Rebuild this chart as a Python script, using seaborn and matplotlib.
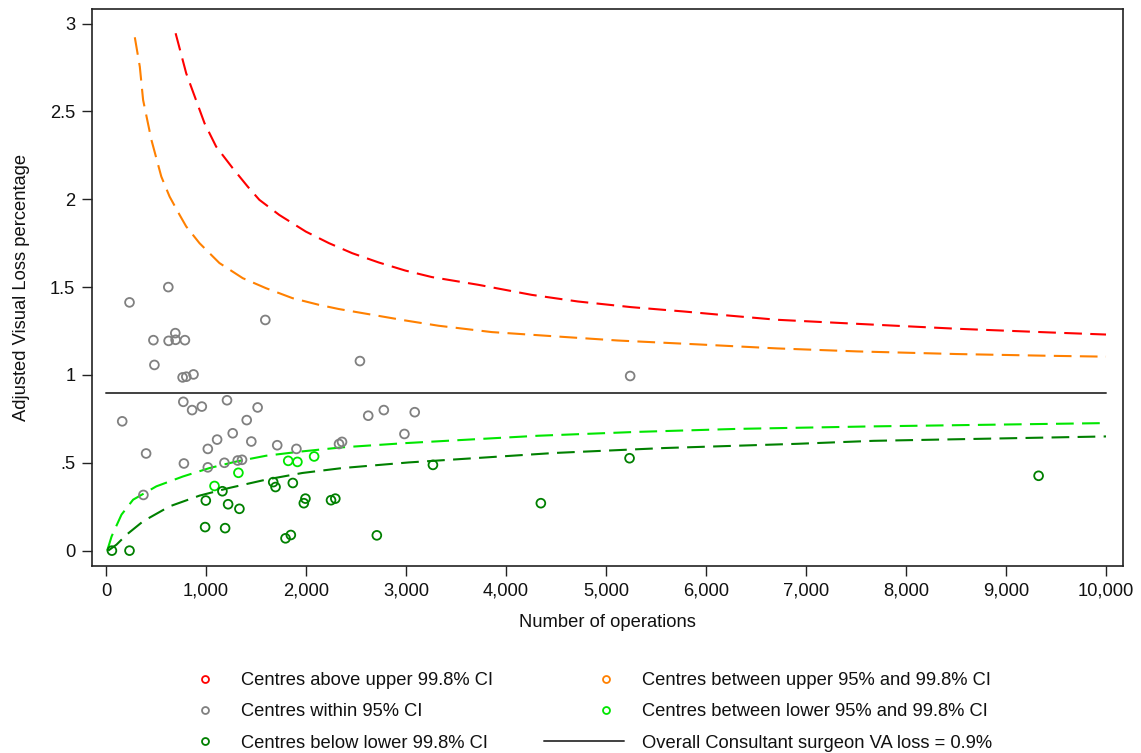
import numpy as np
import pandas as pd
import matplotlib
matplotlib.use("Agg")
import matplotlib.pyplot as plt
import seaborn as sns
from matplotlib.lines import Line2D
from matplotlib.legend_handler import HandlerLine2D
from matplotlib.ticker import FuncFormatter

# ---------------- data ----------------
within_x = [624, 236, 475, 627, 694, 697, 790, 1594, 485, 767, 804, 876, 2540, 774, 862, 959,
            1211, 1517, 163, 1408, 1268, 1112, 1019, 1454, 2623, 2779, 3088, 2985, 1713, 1905,
            2331, 2361, 402, 780, 1019, 1185, 1318, 1361, 375, 5242]
within_y = [1.50, 1.413, 1.198, 1.194, 1.238, 1.20, 1.198, 1.313, 1.057, 0.986, 0.990, 1.003, 1.079,
            0.847, 0.80, 0.82, 0.856, 0.815, 0.736, 0.743, 0.668, 0.632, 0.579, 0.621, 0.768, 0.80,
            0.788, 0.664, 0.60, 0.579, 0.607, 0.619, 0.553, 0.496, 0.474, 0.50, 0.513, 0.517, 0.317,
            0.994]

lower95_x = [1086, 1325, 1823, 1915, 2082]
lower95_y = [0.368, 0.443, 0.511, 0.505, 0.536]

below998_x = [60, 236, 999, 1165, 1222, 1335, 992, 1192, 1673, 1696, 1869, 1995, 1979, 2251, 2294,
              1796, 1849, 2709, 3270, 4349, 5236, 9326]
below998_y = [0.0, 0.0, 0.285, 0.338, 0.264, 0.238, 0.134, 0.128, 0.390, 0.362, 0.385, 0.296, 0.27,
              0.287, 0.296, 0.07, 0.089, 0.087, 0.488, 0.27, 0.526, 0.426]

# control limits
up998_x = [697, 803, 986, 1102, 1268, 1418, 1534, 1733, 1999, 2231, 2463, 2729, 2995, 3260, 3725,
           4256, 4721, 5252, 5783, 6248, 6713, 7510, 8506, 9435, 10000]
up998_y = [2.945, 2.717, 2.433, 2.30, 2.177, 2.072, 1.997, 1.911, 1.816, 1.75, 1.693, 1.64, 1.594,
           1.557, 1.513, 1.456, 1.418, 1.386, 1.361, 1.337, 1.314, 1.291, 1.263, 1.242, 1.23]

up95_x = [289, 339, 372, 455, 554, 637, 737, 803, 936, 1135, 1368, 1600, 1866, 2131, 2331, 2995,
          3327, 3858, 4588, 5120, 5916, 6713, 7510, 8506, 9435, 10000]
up95_y = [2.922, 2.755, 2.565, 2.338, 2.129, 2.015, 1.911, 1.845, 1.75, 1.637, 1.551, 1.494, 1.437,
          1.399, 1.375, 1.31, 1.28, 1.244, 1.216, 1.196, 1.174, 1.151, 1.134, 1.119, 1.109, 1.104]

lo95_x = [13, 57, 156, 272, 505, 770, 1036, 1302, 1600, 1965, 2364, 2995, 4323, 5319, 6315, 7643, 10000]
lo95_y = [0.0, 0.081, 0.205, 0.29, 0.366, 0.422, 0.47, 0.507, 0.54, 0.565, 0.588, 0.612, 0.654,
          0.676, 0.693, 0.707, 0.726]

lo998_x = [23, 106, 205, 372, 637, 936, 1235, 1600, 1965, 2364, 3028, 4489, 5584, 6912, 7676, 10000]
lo998_y = [0.0, 0.034, 0.09, 0.167, 0.252, 0.313, 0.357, 0.404, 0.442, 0.47, 0.502, 0.556, 0.584,
           0.608, 0.625, 0.65]

overall_rate = 0.9
overall_x = [0, 10000]

x_ticks = [0, 1000, 2000, 3000, 4000, 5000, 6000, 7000, 8000, 9000, 10000]
y_ticks = [0, 0.5, 1, 1.5, 2, 2.5, 3]
y_tick_labels = ["0", ".5", "1", "1.5", "2", "2.5", "3"]

labels = ["Centres above upper 99.8% CI", "Centres within 95% CI", "Centres below lower 99.8% CI",
          "Centres between upper 95% and 99.8% CI", "Centres between lower 95% and 99.8% CI",
          "Overall Consultant surgeon VA loss = 0.9%"]

# ---------------- styling ----------------
sns.set_theme(style="white")
plt.rcParams["font.family"] = ["Liberation Sans", "DejaVu Sans"]

C_RED = "#ff0000"
C_ORANGE = "#ff8000"
C_GRAY = "#808080"
C_LIME = "#00e600"
C_DGREEN = "#008000"
C_LINE = "#404040"

FS = 13.2

W, H = 1141, 753
fig = plt.figure(figsize=(W / 100, H / 100), dpi=100)
fig.patch.set_facecolor("white")
ax = fig.add_axes([92 / W, 1 - 566 / H, (1123 - 92) / W, (566 - 9) / H])

dash = (8.5, 4)
def curve(xs, ys, color):
    d = pd.DataFrame({"x": xs, "y": ys})
    sns.lineplot(data=d, x="x", y="y", ax=ax, color=color, linewidth=1.5,
                 sort=False, estimator=None, dashes=False, linestyle=(0, dash))

curve(up998_x, up998_y, C_RED)
curve(up95_x, up95_y, C_ORANGE)
curve(lo95_x, lo95_y, C_LIME)
curve(lo998_x, lo998_y, C_DGREEN)

sns.lineplot(x=overall_x, y=[overall_rate] * len(overall_x), ax=ax, color=C_LINE, linewidth=1.4)

def pts(xs, ys, color):
    sns.scatterplot(x=xs, y=ys, ax=ax, marker="o", s=40, facecolors="none",
                    edgecolor=color, linewidth=1.3, zorder=5)

pts(within_x, within_y, C_GRAY)
pts(lower95_x, lower95_y, C_LIME)
pts(below998_x, below998_y, C_DGREEN)

ax.set_xlim(-139, 10170)
ax.set_ylim(-0.0875, 3.083)
ax.set_xticks(x_ticks)
ax.xaxis.set_major_formatter(FuncFormatter(lambda v, p: f"{int(v):,}"))
ax.set_yticks(y_ticks)
ax.set_yticklabels(y_tick_labels)
ax.tick_params(axis="both", direction="out", length=7, width=1, color="#222222",
               labelsize=FS, labelcolor="#111111", bottom=True, left=True)
ax.tick_params(axis="x", pad=5)
ax.tick_params(axis="y", pad=5)
for s in ax.spines.values():
    s.set_color("#222222")
    s.set_linewidth(1.2)
ax.set_xlabel("Number of operations", fontsize=FS, color="#111111", labelpad=10)
ax.set_ylabel("Adjusted Visual Loss percentage", fontsize=FS, color="#111111", labelpad=14.5)
ax.grid(False)


class MarkerRight(HandlerLine2D):
    def create_artists(self, legend, orig_handle, xdescent, ydescent, width, height, fontsize, trans):
        arts = super().create_artists(legend, orig_handle, xdescent, ydescent, width, height, fontsize, trans)
        for a in arts:
            xd = np.asarray(a.get_xdata(), dtype=float)
            if len(xd) == 3:
                a.set_xdata([xd[0], xd[0] + 0.775 * (xd[2] - xd[0]), xd[2]])
        return arts


def mk(color):
    return Line2D([], [], linestyle="None", marker="o", markersize=5, markerfacecolor="none",
                  markeredgecolor=color, markeredgewidth=1.3)

handles = [mk(C_RED), mk(C_GRAY), mk(C_DGREEN), mk(C_ORANGE), mk(C_LIME),
           Line2D([], [], color=C_LINE, linewidth=1.4)]
em = FS * 100 / 72
leg = fig.legend(handles, labels, loc="upper left", bbox_to_anchor=(143 / W, 1 - 672 / H),
                 ncol=2, frameon=False, fontsize=FS, handlelength=80 / em,
                 handletextpad=18 / em, columnspacing=51 / em, labelspacing=0.78,
                 borderpad=0, borderaxespad=0, numpoints=1,
                 handler_map={Line2D: MarkerRight()})
for t in leg.get_texts():
    t.set_color("#111111")

fig.savefig("out.png", dpi=100, facecolor="white")
